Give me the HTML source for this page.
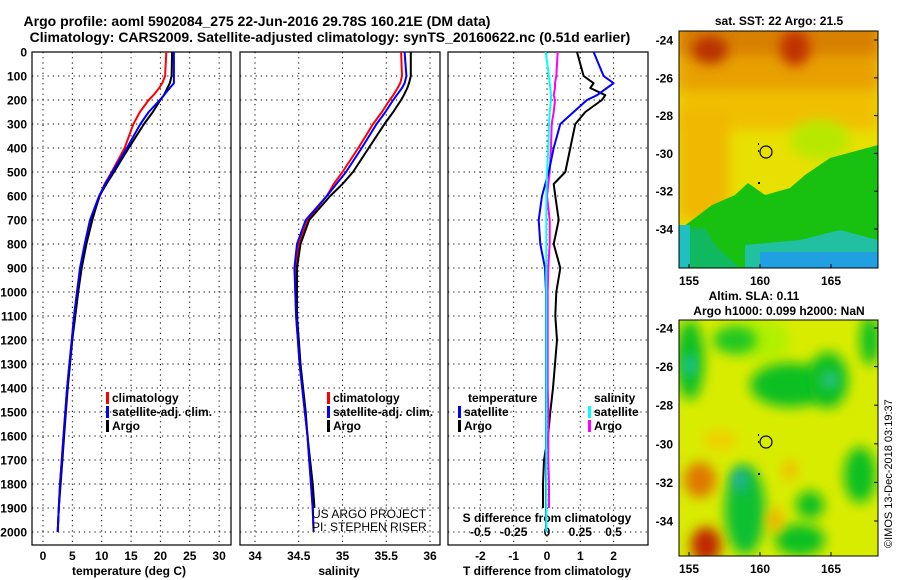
<!DOCTYPE html>
<html><head><meta charset="utf-8"><style>
body{margin:0;background:#fff;}
svg{display:block;font-family:"Liberation Sans",sans-serif;font-weight:bold;}
</style></head><body>
<svg id="c" width="900" height="580" viewBox="0 0 900 580">
<defs>
<filter id="bl" x="-50%" y="-50%" width="200%" height="200%"><feGaussianBlur stdDeviation="6"/></filter>
<clipPath id="cm1"><rect x="679" y="31" width="199" height="237"/></clipPath>
<clipPath id="cm2"><rect x="679" y="320" width="199" height="236"/></clipPath>
</defs>
<text x="257" y="26" font-size="14" text-anchor="middle">Argo profile: aoml 5902084_275 22-Jun-2016 29.78S 160.21E (DM data)</text>
<text x="330" y="42" font-size="14" text-anchor="middle">Climatology: CARS2009. Satellite-adjusted climatology: synTS_20160622.nc (0.51d earlier)</text>

<g clip-path="url(#cm1)">
<rect x="679" y="31" width="199" height="237" fill="#e8e000"/>
<rect x="679" y="20" width="199" height="110" fill="#f0c000" filter="url(#bl)"/>
<rect x="679" y="20" width="199" height="70" fill="#e8a000" filter="url(#bl)"/>
<rect x="679" y="20" width="199" height="35" fill="#d88000" filter="url(#bl)"/>
<ellipse cx="710" cy="50" rx="18" ry="14" fill="#b83000" filter="url(#bl)"/>
<ellipse cx="795" cy="48" rx="15" ry="18" fill="#c03000" filter="url(#bl)"/>
<rect x="679" y="110" width="50" height="110" fill="#f0b800" filter="url(#bl)"/>
<ellipse cx="820" cy="140" rx="30" ry="20" fill="#b8e800" filter="url(#bl)"/>
<polygon points="679,230 712,205 735,195 748,183 765,195 790,188 805,175 830,158 878,145 878,268 679,268" fill="#18c010"/>
<polygon points="679,230 705,228 715,245 740,268 679,268" fill="#10b860"/>
<polygon points="745,245 800,240 840,230 878,240 878,268 745,268" fill="#20c0a0"/>
<rect x="760" y="252" width="118" height="16" fill="#20a0e0"/>
<polygon points="679,225 690,225 690,268 679,268" fill="#20c0c0"/>
<circle cx="766" cy="152" r="6" fill="none" stroke="#000" stroke-width="1.2"/>
<rect x="758" y="143" width="1" height="2" fill="#000"/><rect x="758" y="150" width="1" height="2" fill="#000"/><rect x="758" y="182" width="2" height="2" fill="#000"/>
</g>
<rect x="679" y="31" width="199" height="237" fill="none" stroke="#000"/>
<text x="779" y="25" font-size="12" text-anchor="middle">sat. SST: 22 Argo: 21.5</text>

<g clip-path="url(#cm2)">
<rect x="679" y="320" width="199" height="236" fill="#d8ec00"/>
<ellipse cx="760" cy="340" rx="30" ry="20" fill="#b0f000" filter="url(#bl)"/>
<ellipse cx="690" cy="360" rx="14" ry="40" fill="#10c020" filter="url(#bl)"/>
<ellipse cx="690" cy="365" rx="5" ry="12" fill="#20c0c0" filter="url(#bl)"/>
<ellipse cx="790" cy="385" rx="40" ry="22" fill="#10c020" filter="url(#bl)"/>
<ellipse cx="828" cy="380" rx="20" ry="28" fill="#10c020" filter="url(#bl)"/>
<ellipse cx="830" cy="380" rx="8" ry="8" fill="#30c0a0" filter="url(#bl)"/>
<ellipse cx="735" cy="340" rx="22" ry="14" fill="#20c820" filter="url(#bl)"/>
<ellipse cx="870" cy="340" rx="10" ry="25" fill="#10c020" filter="url(#bl)"/>
<ellipse cx="745" cy="510" rx="20" ry="45" fill="#10c030" filter="url(#bl)"/>
<ellipse cx="740" cy="480" rx="8" ry="12" fill="#20b0a0" filter="url(#bl)"/>
<ellipse cx="810" cy="505" rx="14" ry="14" fill="#10c020" filter="url(#bl)"/>
<ellipse cx="860" cy="475" rx="16" ry="28" fill="#10c020" filter="url(#bl)"/>
<ellipse cx="800" cy="540" rx="25" ry="16" fill="#10c020" filter="url(#bl)"/>
<ellipse cx="700" cy="480" rx="16" ry="18" fill="#e07800" filter="url(#bl)"/>
<ellipse cx="706" cy="545" rx="15" ry="18" fill="#c02800" filter="url(#bl)"/>
<ellipse cx="775" cy="520" rx="8" ry="12" fill="#f0b000" filter="url(#bl)"/>
<ellipse cx="790" cy="470" rx="8" ry="10" fill="#f0c000" filter="url(#bl)"/>
<ellipse cx="720" cy="440" rx="18" ry="10" fill="#f0d000" filter="url(#bl)"/>
<circle cx="766" cy="442" r="6" fill="none" stroke="#000" stroke-width="1.2"/>
<rect x="758" y="434" width="1" height="2" fill="#000"/><rect x="758" y="441" width="1" height="2" fill="#000"/><rect x="758" y="473" width="2" height="2" fill="#000"/>
</g>
<rect x="679" y="320" width="199" height="236" fill="none" stroke="#000"/>
<text x="754" y="300" font-size="12" text-anchor="middle">Altim. SLA: 0.11</text>
<text x="779" y="315" font-size="12" text-anchor="middle">Argo h1000: 0.099 h2000: NaN</text>
<text transform="translate(892,548) rotate(-90)" font-size="11" font-weight="normal">©IMOS 13-Dec-2018 03:19:37</text>
<g id="g"></g>
</svg>
<script>
// Depth levels (m)
const depthT = [0,100,130,150,180,200,250,300,400,500,550,600,700,800,900,1000,1100,1200,1300,1400,1500,1600,1700,1800,1900,2000];
// Temperature profiles (deg C)
const tempArgo = [22,21.9,21.6,21.2,20.6,20,18.7,17.2,14.6,12.1,10.8,9.6,8.4,7.4,6.6,6.0,5.5,5.0,4.6,4.2,3.9,3.6,3.3,3.0,2.7,2.5];
const tempClim = [21,20.8,20.3,19.8,18.8,18.0,16.5,15.4,13.9,11.7,10.5,9.7,8.2,7.2,6.4,5.8,5.3,4.9,4.5,4.1,3.8,3.5,3.2,2.9,2.7,2.5];
const tempSat  = [22.3,22.3,22.3,21.6,20.6,19.9,18.0,16.6,14.3,11.8,10.6,9.55,8.0,7.1,6.3,5.8,5.3,4.9,4.5,4.1,3.8,3.5,3.2,2.9,2.7,2.5];
// Salinity profiles (PSU)
const salArgo = [35.78,35.78,35.76,35.74,35.7,35.67,35.58,35.48,35.3,35.12,35.0,34.86,34.62,34.52,34.48,34.48,34.48,34.5,34.52,34.55,34.58,34.6,34.63,34.66,34.68,null];
const salClim = [35.67,35.68,35.66,35.63,35.58,35.54,35.45,35.35,35.18,35.0,34.9,34.82,34.6,34.5,34.46,34.46,34.47,34.49,34.51,34.54,34.57,34.6,34.62,34.64,34.66,34.67];
const salSat  = [35.71,35.73,35.71,35.68,35.62,35.58,35.49,35.39,35.22,35.04,34.93,34.82,34.58,34.48,34.45,34.46,34.47,34.49,34.51,34.54,34.57,34.6,34.62,34.64,34.66,34.67];
// Differences from climatology
const dTArgo = [0.9,1.1,1.4,1.3,1.75,1.65,1.15,0.85,0.7,0.55,0.2,0.25,0.35,0.2,0.4,0.28,0.25,0.3,0.24,0.18,0.1,0.03,-0.09,-0.12,-0.12,null];
const dTSat  = [1.4,1.7,2.0,1.8,1.5,1.2,0.8,0.4,0.2,0.05,-0.05,-0.15,-0.25,-0.2,-0.06,-0.03,-0.03,-0.03,-0.03,-0.03,-0.03,-0.03,-0.03,-0.03,-0.03,-0.03];
const dSArgo = [0.08,0.07,0.06,0.06,0.05,0.06,0.05,0.035,0.03,0.02,0.01,0.0,0.02,0.02,0.01,0.005,0.005,0.005,0.005,0.005,0.01,0.01,0.01,0.015,0.015,null];
const dSSat  = [-0.01,0.015,0.02,0.025,0.03,0.03,0.02,0.015,0.01,0.0,-0.003,-0.005,-0.005,-0.005,-0.005,-0.005,-0.005,-0.005,-0.005,-0.005,-0.005,-0.005,-0.005,-0.005,-0.005,-0.005];
const depthTicks = [0,100,200,300,400,500,600,700,800,900,1000,1100,1200,1300,1400,1500,1600,1700,1800,1900,2000];
const tempTicks = [0,5,10,15,20,25,30];
const salTicks = [34,34.5,35,35.5,36];
const dTTicks = [-2,-1,0,1,2];
const dSTicks = [-0.5,-0.25,0,0.25,0.5];

const NS='http://www.w3.org/2000/svg';
const G=document.getElementById('g');
function mk(t,a,p){const e=document.createElementNS(NS,t);for(const k in a)e.setAttribute(k,a[k]);(p||G).appendChild(e);return e;}
const y=d=>52+d*0.24;
const P1={x0:32,x1:231,f:v=>43+v*5.87};
const P2={x0:240,x1:440,f:v=>255+(v-34)*87.5};
const P3={x0:448,x1:648,f:v=>547+v*33.3};
const fS=v=>547+v*133.2;
const yTop=52,yBot=545;

function frame(P,ticks,fmt,name,label,lx){
  for(const d of depthTicks){
    const l=mk('line',{x1:P.x0,x2:P.x1,y1:y(d),y2:y(d),stroke:'#000','stroke-dasharray':'1.2 4','stroke-width':1});
    
    
  }
  for(const t of ticks){
    const x=P.f(t);
    const l=mk('line',{x1:x,x2:x,y1:yTop,y2:yBot,stroke:'#000','stroke-dasharray':'1.2 4','stroke-width':1});
    
    
    const tx=mk('text',{x:x,y:yBot+15,'font-size':12,'text-anchor':'middle'});
    tx.textContent=fmt(t);
    
    
  }
  const r=mk('rect',{x:P.x0,y:yTop,width:P.x1-P.x0,height:yBot-yTop,fill:'none',stroke:'#000','stroke-width':1.2});
  
  
  const t=mk('text',{x:lx,y:575,'font-size':12,'text-anchor':'middle'});
  t.textContent=label;
  
  
}
frame(P1,tempTicks,String,'temperature','temperature (deg C)',129);
frame(P2,salTicks,String,'salinity','salinity',339);
frame(P3,dTTicks,String,'t-diff','T difference from climatology',547);
for(const d of depthTicks){
  const t=mk('text',{x:27,y:y(d)+4.5,'font-size':12,'text-anchor':'end'});
  t.textContent=d;
  
  
}
for(const s of dSTicks){
  const t=mk('text',{x:fS(s),y:536,'font-size':12,'text-anchor':'middle'});
  t.textContent=String(s);
  
  
}
const st=mk('text',{x:547,y:522,'font-size':12,'text-anchor':'middle'});
st.textContent='S difference from climatology';



function line(vals,f,col,w,name){
  const pts=[];
  vals.forEach((v,i)=>{if(v!==null)pts.push(f(v).toFixed(1)+','+y(depthT[i]).toFixed(1));});
  const p=mk('polyline',{points:pts.join(' '),fill:'none',stroke:col,'stroke-width':w,'stroke-linejoin':'round'});
  
  
}
line(tempClim,P1.f,'#f00',2,'temp-climatology-line');
line(tempArgo,P1.f,'#000',2,'temp-argo-line');
line(tempSat,P1.f,'#00f',2,'temp-satellite-line');
line(salClim,P2.f,'#f00',2,'sal-climatology-line');
line(salArgo,P2.f,'#000',2,'sal-argo-line');
line(salSat,P2.f,'#00f',2,'sal-satellite-line');
line(dTArgo,P3.f,'#000',2,'tdiff-argo-line');
line(dSArgo,fS,'#f0f',2,'sdiff-argo-line');
line(dTSat,P3.f,'#00f',2,'tdiff-satellite-line');
line(dSSat,fS,'#0ff',2,'sdiff-satellite-line');

function leg(x,yy,col,txt,name){
  if(col){const r=mk('rect',{x:x,y:yy-10,width:3,height:12,fill:col});
    
    }
  const t=mk('text',{x:x+6,y:yy,'font-size':12});
  t.textContent=txt;
  
  
}
leg(106,402,'#f00','climatology','legend-climatology');
leg(106,416,'#00f','satellite-adj. clim.','legend-satellite');
leg(106,430,'#000','Argo','legend-argo');
leg(327,402,'#f00','climatology','legend2-climatology');
leg(327,416,'#00f','satellite-adj. clim.','legend2-satellite');
leg(327,430,'#000','Argo','legend2-argo');
leg(462,402,null,'temperature','legend-temperature-header');
leg(458,416,'#00f','satellite','legend-t-satellite');
leg(458,430,'#000','Argo','legend-t-argo');
leg(588,402,null,'salinity','legend-salinity-header');
leg(588,416,'#0ff','satellite','legend-s-satellite');
leg(588,430,'#f0f','Argo','legend-s-argo');
const u1=mk('text',{x:312,y:518,'font-size':12,'font-weight':'normal'});u1.textContent='US ARGO PROJECT';


const u2=mk('text',{x:312,y:531,'font-size':12,'font-weight':'normal'});u2.textContent='PI: STEPHEN RISER';



// map axes
const lat=[-24,-26,-28,-30,-32,-34], lon=[155,160,165];
function mapAx(y0,dy,yb){
  lat.forEach((l,i)=>{const yy=y0+i*dy;
    const t=mk('text',{x:673,y:yy+4.5,'font-size':12,'text-anchor':'end'});t.textContent=l;
    
    
    mk('line',{x1:878,x2:874,y1:yy,y2:yy,stroke:'#000'});});
  lon.forEach(l=>{const x=689+(l-155)*14.2;
    const t=mk('text',{x:x,y:yb+17,'font-size':12,'text-anchor':'middle'});t.textContent=l;
    
    
    mk('line',{x1:x,x2:x,y1:yb,y2:yb-4,stroke:'#000'});});
}
mapAx(40,37.8,268);
mapAx(328,38.6,556);
</script>
</body></html>
